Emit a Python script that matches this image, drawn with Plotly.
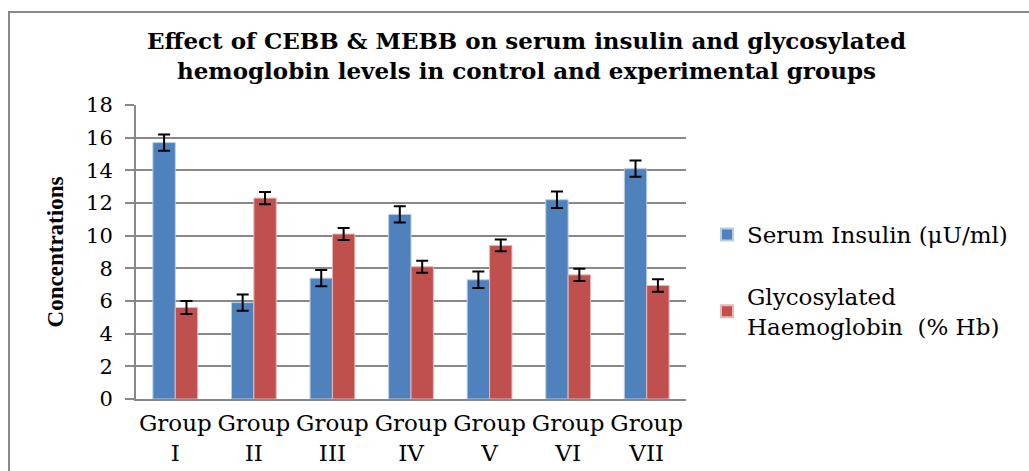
import plotly.graph_objects as go

groups = ["Group<br>I", "Group<br>II", "Group<br>III", "Group<br>IV", "Group<br>V", "Group<br>VI", "Group<br>VII"]
insulin = [15.7, 5.9, 7.4, 11.3, 7.3, 12.2, 14.1]
insulin_err = [0.5, 0.5, 0.5, 0.5, 0.5, 0.5, 0.5]
hba1c = [5.6, 12.3, 10.1, 8.1, 9.4, 7.6, 6.95]
hba1c_err = [0.4, 0.38, 0.37, 0.37, 0.36, 0.38, 0.38]
y_ticks = [0, 2, 4, 6, 8, 10, 12, 14, 16, 18]

W, H = 1029, 471
L, R, T, B = 136, 686, 105, 399

serif = "DejaVu Serif, serif"
tserif = "Liberation Serif, Times New Roman, serif"

fig = go.Figure()
fig.add_trace(go.Bar(
    x=groups, y=insulin, name="Serum Insulin (μU/ml)",
    marker=dict(color="#4F81BD", line=dict(color="#B9CDE5", width=1)),
    error_y=dict(type="data", array=insulin_err, color="black", thickness=2, width=6),
    legendgroup="a",
))
fig.add_trace(go.Bar(
    x=groups, y=hba1c, name="Glycosylated<br>Haemoglobin  (% Hb)",
    marker=dict(color="#C0504D", line=dict(color="#E6B9B8", width=1)),
    error_y=dict(type="data", array=hba1c_err, color="black", thickness=2, width=6),
    legendgroup="b",
))

def px(x):
    return (x - L) / (R - L)

def py(y):
    return (B - y) / (B - T)

fig.update_layout(
    width=W, height=H,
    margin=dict(l=L, r=W - R, t=T, b=H - B, pad=0, autoexpand=False),
    paper_bgcolor="white", plot_bgcolor="white",
    barmode="group", bargap=0.43, bargroupgap=0,
    font=dict(family=serif, size=20, color="black"),
    title=dict(
        text="<b>Effect of CEBB &amp; MEBB on serum insulin and glycosylated<br>hemoglobin levels in control and experimental groups</b>",
        x=(148 + 905) / 2 / W, xanchor="center", y=1 - 49 / H, yanchor="middle",
        font=dict(family=serif, size=23, color="black"),
    ),
    showlegend=True,
    legend=dict(
        x=px(707), xanchor="left", y=py(213), yanchor="top",
        font=dict(family=serif, size=23, color="black"),
        tracegroupgap=29, itemsizing="constant", bgcolor="rgba(0,0,0,0)",
    ),
    xaxis=dict(
        automargin=False,
        showgrid=False, showline=True, linecolor="#888888", linewidth=2,
        ticks="", tickfont=dict(family=serif, size=23, color="black"),
        zeroline=False, ticklabelstandoff=2,
    ),
    yaxis=dict(
        automargin=False,
        range=[0, 18], tickvals=y_ticks, showgrid=True, gridcolor="#888888", gridwidth=2,
        showline=True, linecolor="#888888", linewidth=2,
        ticks="outside", ticklen=9, tickcolor="#888888", tickwidth=2,
        tickfont=dict(family=serif, size=21, color="black"),
        zeroline=False, ticklabelstandoff=8,
        title=dict(text="<b>Concentrations</b>", font=dict(family=tserif, size=23, color="black"), standoff=16),
    ),
    shapes=[
        dict(type="rect", xref="paper", yref="paper",
             x0=px(9), x1=px(1045), y0=py(490), y1=py(12),
             line=dict(color="#888888", width=2), fillcolor="rgba(0,0,0,0)", layer="below"),
    ],
)

post = (
    "document.documentElement.style.margin='0';"
    "document.documentElement.style.overflow='hidden';"
    "document.body.style.margin='0';"
    "document.body.style.overflow='hidden';"
    "document.body.style.height='471px';"
    "var gd=document.getElementById('{plot_id}');gd.style.display='block';"
)
fig.write_html("out.html", config={"displayModeBar": False}, post_script=post)
